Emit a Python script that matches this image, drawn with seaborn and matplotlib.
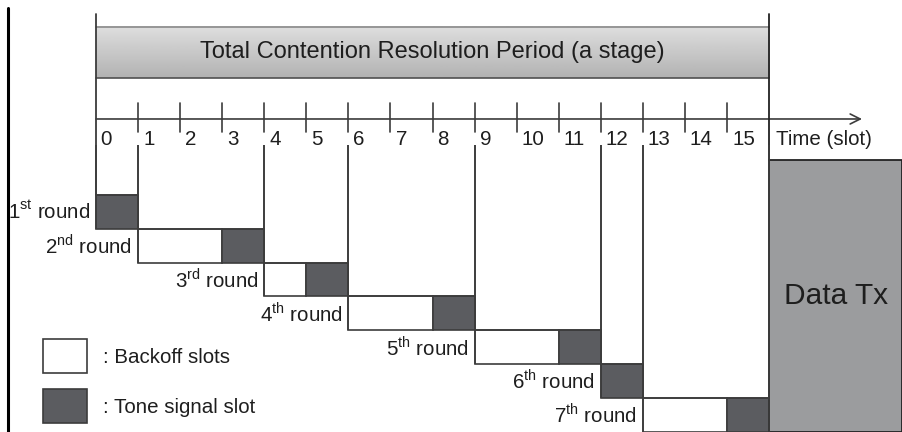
import numpy as np
import matplotlib
matplotlib.use("Agg")
import matplotlib.pyplot as plt
import seaborn as sns

# rounds of the contention resolution stage
round_labels = ["1$^{\\mathrm{st}}$ round", "2$^{\\mathrm{nd}}$ round", "3$^{\\mathrm{rd}}$ round",
                "4$^{\\mathrm{th}}$ round", "5$^{\\mathrm{th}}$ round", "6$^{\\mathrm{th}}$ round",
                "7$^{\\mathrm{th}}$ round"]
backoff_slots = [0, 2, 1, 2, 2, 0, 2]     # number of backoff slots per round
tone_slots = [0, 3, 5, 8, 11, 12, 15]      # slot index of the tone signal
slot_ticks = list(range(16))
n_slots = 16

sns.set_theme(style="white")
plt.rcParams['font.family'] = ['Liberation Sans', 'DejaVu Sans']
plt.rcParams['mathtext.fontset'] = 'custom'
plt.rcParams['mathtext.rm'] = 'Liberation Sans'

EDGE = "#3c3c3c"
DARK = "#5b5c60"
GRAY = "#9b9c9e"
TXT = "#1e1e1e"

fig = plt.figure(figsize=(9.02, 4.32), dpi=100)
ax = fig.add_axes([0, 0, 1, 1])
ax.set_xlim(-2.282, 19.16)
ax.set_ylim(7.51, -5.27)
ax.axis("off")

# top bar with a vertical gradient
grad = np.linspace(0.87, 0.70, 50).reshape(-1, 1)
ax.imshow(grad, cmap="gray", vmin=0, vmax=1, aspect="auto",
          extent=(0, n_slots, -2.96, -4.47), zorder=1)
ax.plot([0, n_slots], [-4.47, -4.47], color="#8a8a8a", lw=1.2, zorder=2)
ax.plot([0, n_slots], [-2.96, -2.96], color="#505050", lw=1.2, zorder=2)
ax.text(n_slots / 2, -3.72, "Total Contention Resolution Period (a stage)",
        ha="center", va="center", fontsize=17, color=TXT, zorder=3)

# stage boundary lines and far-left line
ax.plot([0, 0], [-4.86, 0.5], color=EDGE, lw=1.3, zorder=4)
ax.plot([n_slots, n_slots], [-4.86, -0.54], color="#222222", lw=1.3, zorder=4)
ax.plot([-2.09, -2.09], [-5.04, 7.51], color="black", lw=2.2, zorder=4)

# time axis
ax.annotate("", xy=(18.21, -1.75), xytext=(0, -1.75),
            arrowprops=dict(arrowstyle="->", color=EDGE, lw=1.2,
                            mutation_scale=18, shrinkA=0, shrinkB=0))
for s in slot_ticks:
    if s > 0:
        ax.plot([s, s], [-2.22, -1.37], color=EDGE, lw=1.2, zorder=4)
    ax.text(s + (0.1 if s == 0 else 0.12), -1.15, str(s), ha="left", va="center",
            fontsize=14.8, color=TXT)
ax.text(16.17, -1.15, "Time (slot)", ha="left", va="center", fontsize=14.8, color=TXT)

# rounds: open column above each round, backoff slots and tone slot
for i, (lab, nb, ts) in enumerate(zip(round_labels, backoff_slots, tone_slots)):
    row = i + 1
    start = ts - nb
    end = ts + 1
    ax.vlines([start, end], -0.98, row + 0.5, color=EDGE, lw=1.2, zorder=4)
    ax.hlines(row - 0.5, start, end, color=EDGE, lw=1.2, zorder=4)
    if nb > 0:
        ax.bar(start, 1, width=nb, bottom=row - 0.5, align="edge",
               color="white", edgecolor=EDGE, linewidth=1.2, zorder=3)
    ax.bar(ts, 1, width=1, bottom=row - 0.5, align="edge",
           color=DARK, edgecolor=EDGE, linewidth=1.2, zorder=3)
    ax.text(start - 0.14, row, lab, ha="right", va="center", fontsize=14.8, color=TXT)

# data transmission block
ax.bar(n_slots, 7.51 - (-0.54), width=19.16 - n_slots, bottom=-0.54, align="edge",
       color=GRAY, edgecolor="#222222", linewidth=1.3, zorder=3)
ax.text(17.6, 3.49, "Data Tx", ha="center", va="center", fontsize=21.5, color=TXT, zorder=5)

# legend
ax.bar(-1.26, 1.006, width=1.046, bottom=4.757, align="edge",
       color="white", edgecolor=EDGE, linewidth=1.2, zorder=3)
ax.bar(-1.26, 1.006, width=1.046, bottom=6.237, align="edge",
       color=DARK, edgecolor=EDGE, linewidth=1.2, zorder=3)
ax.text(0.17, 5.3, ": Backoff slots", ha="left", va="center", fontsize=14.8, color=TXT)
ax.text(0.17, 6.78, ": Tone signal slot", ha="left", va="center", fontsize=14.8, color=TXT)

fig.savefig("out.png", dpi=100)
